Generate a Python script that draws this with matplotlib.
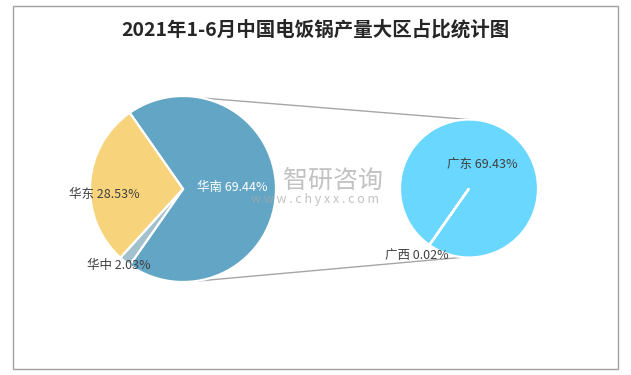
import numpy as np
import matplotlib.pyplot as plt
from matplotlib.patches import Rectangle

plt.rcParams['font.family'] = ['Noto Sans CJK SC', 'DejaVu Sans']

title = '2021年1-6月中国电饭锅产量大区占比统计图'

regions = ['华南', '华东', '华中']
shares = [69.44, 28.53, 2.03]
region_colors = ['#62a5c4', '#f7d37b', '#a3c1cd']

sub_regions = ['广东', '广西']
sub_shares = [69.43, 0.02]
sub_colors = ['#6ad7ff', '#6ad7ff']

W, H = 631, 375
fig = plt.figure(figsize=(W / 100, H / 100), dpi=100)
ax = fig.add_axes([0, 0, 1, 1])

# pixel-like coordinates, y measured up from bottom
main_c, main_r = (183, H - 189), 93
sub_c, sub_r = (469, H - 188.5), 69

wp = dict(edgecolor='white', linewidth=1.6)
main_w, _ = ax.pie(shares, colors=region_colors, startangle=-shares[0] * 3.6 / 2,
                   center=main_c, radius=main_r, wedgeprops=wp)
sub_w, _ = ax.pie(sub_shares, colors=sub_colors, startangle=235,
                  center=sub_c, radius=sub_r, wedgeprops=wp)


def put_labels(wedges, names, vals, c, r, dists, shifts, colors):
    for w, n, v, d, s, col in zip(wedges, names, vals, dists, shifts, colors):
        a = np.deg2rad((w.theta1 + w.theta2) / 2 + s)
        ax.text(c[0] + r * d * np.cos(a), c[1] + r * d * np.sin(a),
                f'{n} {v:.2f}%', ha='center', va='center', fontsize=9,
                color=col, zorder=5)


put_labels(main_w, regions, shares, main_c, main_r,
           [0.53, 0.85, 1.075], [2.3, 7.5, -1.6], ['white', '#404040', '#404040'])
put_labels(sub_w, sub_regions, sub_shares, sub_c, sub_r,
           [0.40, 1.235], [7, -2.6], ['#404040', '#404040'])

# connector lines between the two pies
for a_main, a_sub in [(78, 90), (-84, -95)]:
    p = np.deg2rad(a_main)
    q = np.deg2rad(a_sub)
    ax.plot([main_c[0] + main_r * np.cos(p), sub_c[0] + sub_r * np.cos(q)],
            [main_c[1] + main_r * np.sin(p), sub_c[1] + sub_r * np.sin(q)],
            color='#a6a6a6', lw=1, zorder=0)

# watermark
ax.text(333, H - 181, '智研咨询', fontsize=18, color='#a8a8a8', alpha=0.7,
        ha='center', va='center', zorder=6)
ax.text(315, H - 200, 'w w w . c h y x x . c o m', fontsize=9, color='#a8a8a8',
        alpha=0.7, ha='center', va='center', zorder=6)

ax.text(315, H - 30, title, fontsize=14, fontweight='bold', color='#262626',
        ha='center', va='center')

ax.add_patch(Rectangle((13, H - 369), 605, 363, fill=False, edgecolor='#a0a0a0', lw=1))

ax.set_xlim(0, W)
ax.set_ylim(0, H)
ax.set_aspect('auto')
ax.axis('off')

plt.savefig('out.png', dpi=100)
